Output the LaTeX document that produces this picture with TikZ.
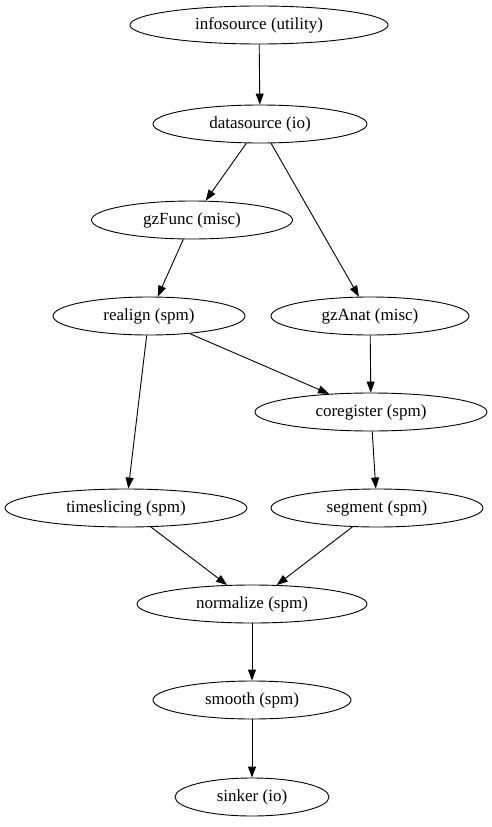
\documentclass[tikz,border=0pt]{standalone}
\usepackage{fontspec}
\setmainfont{Liberation Serif}
\usetikzlibrary{arrows.meta, shapes.geometric}

\tikzset{
    job/.style={ellipse, draw, line width=0.9pt, inner sep=0pt, minimum height=38pt,
        font=\fontsize{17pt}{19pt}\selectfont},
    link/.style={line width=0.9pt, -{Triangle[length=11pt, width=8pt]}}
}

\begin{document}
\begin{tikzpicture}[x=1pt, y=-1pt]
    \useasboundingbox (0,0) rectangle (492,827);

    % Draw nodes
    \node[job, minimum width=258pt] (infosource) at (259,25) {infosource (utility)};
    \node[job, minimum width=214pt] (datasource) at (260,124) {datasource (io)};
    \node[job, minimum width=201pt] (gzFunc) at (192,220) {gzFunc (misc)};
    \node[job, minimum width=192pt] (realign) at (149,316) {realign (spm)};
    \node[job, minimum width=198pt] (gzAnat) at (370,316) {gzAnat (misc)};
    \node[job, minimum width=232pt] (coregister) at (371,412) {coregister (spm)};
    \node[job, minimum width=242pt] (timeslicing) at (126,508) {timeslicing (spm)};
    \node[job, minimum width=212pt] (segment) at (377,508) {segment (spm)};
    \node[job, minimum width=230pt] (normalize) at (252,604) {normalize (spm)};
    \node[job, minimum width=198pt] (smooth) at (252,700) {smooth (spm)};
    \node[job, minimum width=154pt] (sinker) at (252,797) {sinker (io)};

    % Draw connections
    \draw[link] (infosource) -- (datasource);
    \draw[link] (datasource) -- (gzFunc);
    \draw[link] (datasource) -- (gzAnat);
    \draw[link] (gzFunc) -- (realign);
    \draw[link] (realign) -- (coregister);
    \draw[link] (realign) -- (timeslicing);
    \draw[link] (gzAnat) -- (coregister);
    \draw[link] (coregister) -- (segment);
    \draw[link] (timeslicing) -- (normalize);
    \draw[link] (segment) -- (normalize);
    \draw[link] (normalize) -- (smooth);
    \draw[link] (smooth) -- (sinker);
\end{tikzpicture}
\end{document}
